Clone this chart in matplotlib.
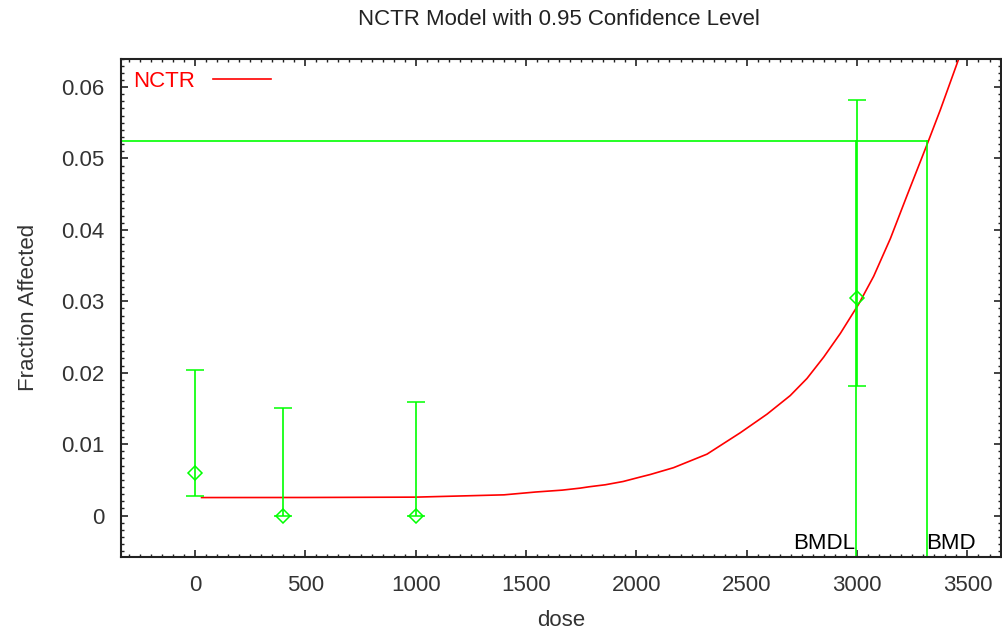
"""
NCTR dose-response plot with BMD / BMDL markers (BMDS style).
"""
import matplotlib
matplotlib.use("Agg")
import matplotlib.pyplot as plt
from matplotlib.ticker import MultipleLocator, FuncFormatter

plt.rcParams["font.family"] = ["Liberation Sans", "DejaVu Sans"]

# observed data
DOSES = [0, 400, 1000, 3000]
FRACTION = [0.0060, 0.0, 0.0, 0.0305]
CI_LOW = [0.0028, 0.0, 0.0, 0.0182]
CI_HIGH = [0.0204, 0.0151, 0.0159, 0.0582]

# fitted NCTR curve
CURVE_DOSE = [30, 500, 1000, 1400, 1545, 1664, 1745, 1786, 1859, 1940, 2017,
              2063, 2168, 2320, 2471, 2592, 2697, 2773, 2849, 2924,
              3007, 3075, 3151, 3226, 3320, 3377, 3460]
CURVE_FRAC = [0.00252, 0.00253, 0.00258, 0.00290, 0.00330, 0.00356, 0.00384,
              0.00403, 0.00431, 0.00477, 0.00539, 0.00575, 0.00670, 0.00860,
              0.01160, 0.01420, 0.01680, 0.01920, 0.02220, 0.02550,
              0.02960, 0.03350, 0.03880, 0.04480, 0.05220, 0.05680, 0.06391]

BMR_LEVEL = 0.0524
BMD = 3315
BMDL = 2993

XMIN, XMAX = -335, 3652
YMIN, YMAX = -0.0058, 0.0640

GREEN = "#00ff00"
RED = "#ff0000"
FS = 16


def main():
    fig = plt.figure(figsize=(10.02, 6.38), dpi=100)
    ax = fig.add_axes([0.1208, 0.127, 0.8782, 0.7813])

    ax.plot(CURVE_DOSE, CURVE_FRAC, color=RED, lw=1.2, label="NCTR")

    low_err = [f - lo for f, lo in zip(FRACTION, CI_LOW)]
    high_err = [hi - f for f, hi in zip(FRACTION, CI_HIGH)]
    ax.errorbar(DOSES, FRACTION, yerr=[low_err, high_err], fmt="D",
                color=GREEN, mfc="none", mec=GREEN, ms=7, mew=1.1,
                elinewidth=1.2, capsize=6.5, capthick=1.2)

    # BMR / BMD / BMDL lines
    ax.plot([XMIN, BMD], [BMR_LEVEL, BMR_LEVEL], color=GREEN, lw=1.2)
    ax.plot([BMD, BMD], [YMIN, BMR_LEVEL], color=GREEN, lw=1.2)
    ax.plot([BMDL, BMDL], [YMIN, BMR_LEVEL], color=GREEN, lw=1.2)
    ax.text(BMDL, YMIN + 0.0004, "BMDL", ha="right", va="bottom", fontsize=FS)
    ax.text(BMD, YMIN + 0.0004, "BMD", ha="left", va="bottom", fontsize=FS)

    ax.set_xlim(XMIN, XMAX)
    ax.set_ylim(YMIN, YMAX)
    ax.xaxis.set_major_locator(MultipleLocator(500))
    ax.xaxis.set_minor_locator(MultipleLocator(50))
    ax.yaxis.set_major_locator(MultipleLocator(0.01))
    ax.yaxis.set_minor_locator(MultipleLocator(0.001))
    ax.yaxis.set_major_formatter(FuncFormatter(lambda v, _: "%g" % round(v, 4)))
    ax.tick_params(which="both", direction="in", top=True, right=True,
                   labelsize=FS, colors="#222222", labelcolor="#333333")
    ax.tick_params(which="major", length=5, width=1.2)
    ax.tick_params(which="minor", length=2.5, width=1.0)
    ax.tick_params(axis="y", pad=12)
    ax.tick_params(axis="x", pad=13)
    for spine in ax.spines.values():
        spine.set_linewidth(1.5)
        spine.set_color("#222222")

    ax.set_xlabel("dose", fontsize=FS, color="#333333", labelpad=10)
    ax.set_ylabel("Fraction Affected", fontsize=FS, color="#333333", labelpad=16)
    fig.text(0.558, 0.97, "NCTR Model with 0.95 Confidence Level",
             ha="center", va="center", fontsize=FS, color="#222222")

    ax.legend(loc="upper left", frameon=False, markerfirst=False,
              fontsize=FS, labelcolor=RED, handlelength=2.6,
              borderaxespad=0.15, handletextpad=0.8)

    fig.savefig("out.png", dpi=100)


if __name__ == "__main__":
    main()
